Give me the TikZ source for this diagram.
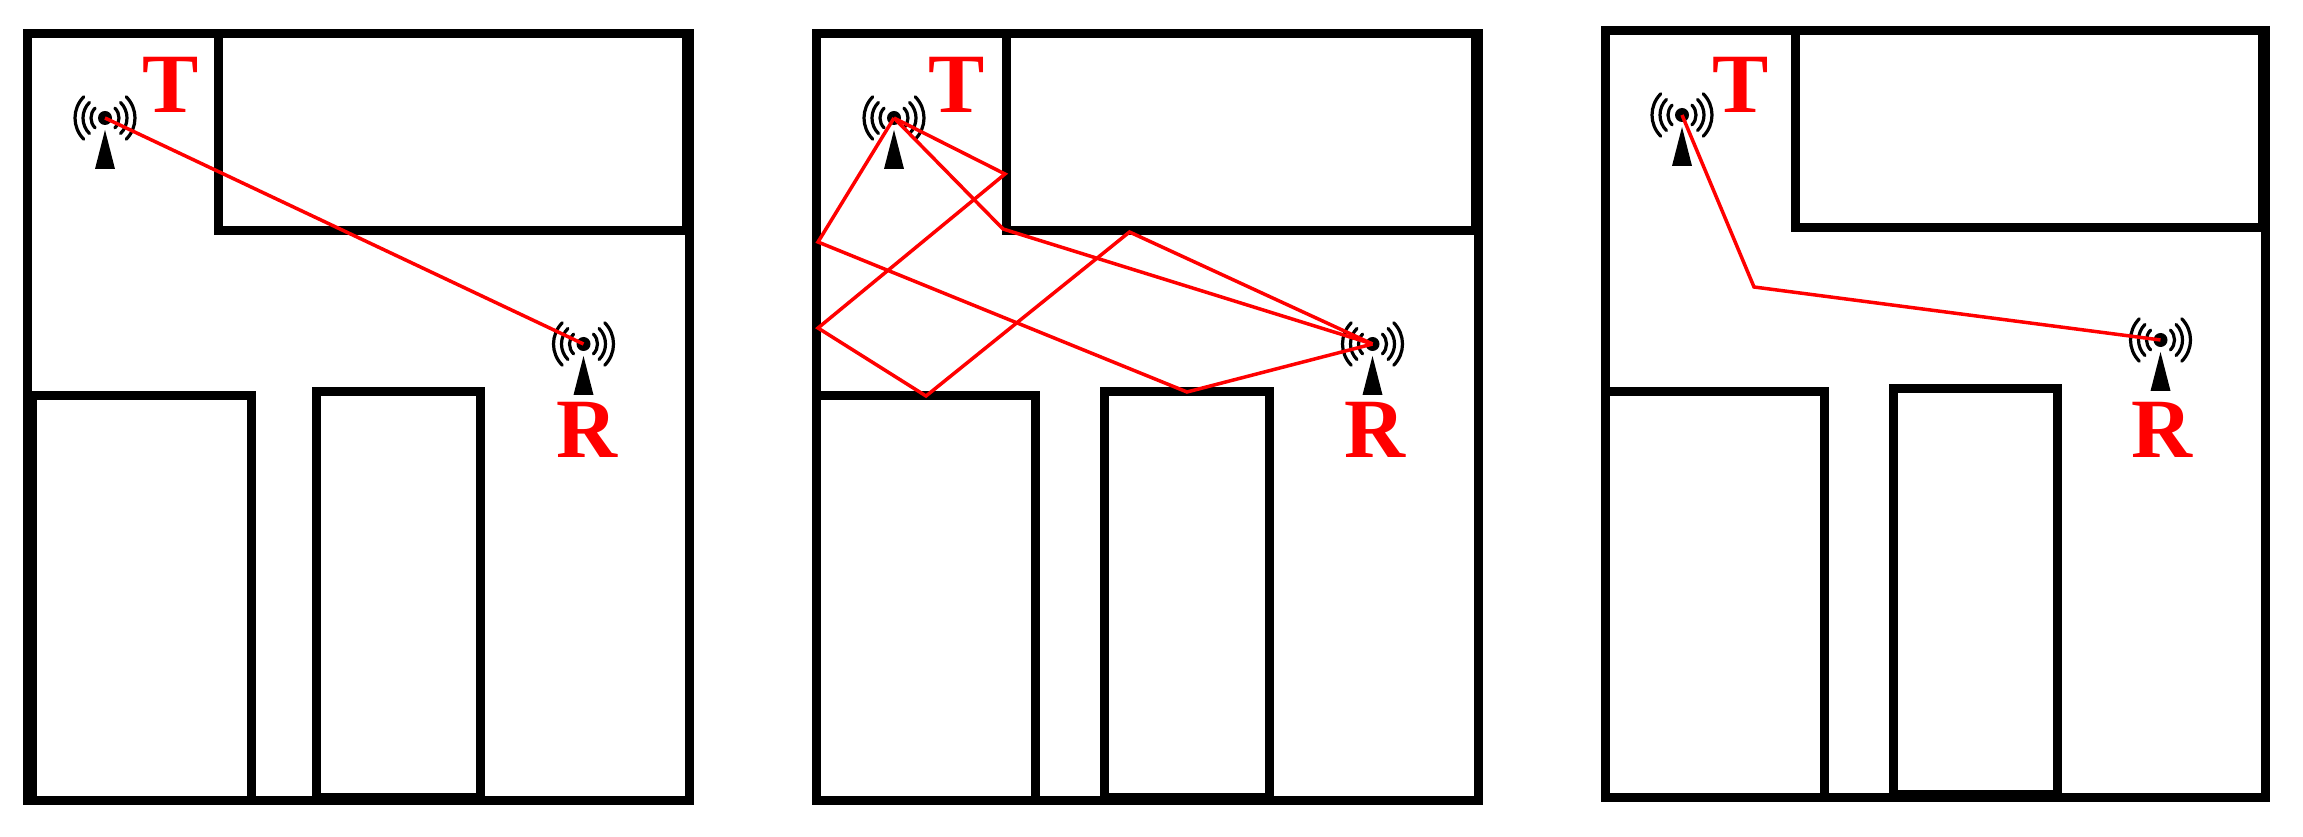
\documentclass[tikz,border=0pt]{standalone}
\usepackage{fontspec}
\setmainfont{Liberation Serif}
\usepackage{tikz}

\tikzset{
  wall/.style={line width=0.09cm, color=black, line join=miter},
  thickwall/.style={line width=0.12cm, color=black},
  ray/.style={line width=0.035cm, color=red, line join=miter},
  tag/.style={color=red, inner sep=0pt, outer sep=0pt, anchor=base, font=\fontsize{24pt}{24pt}\selectfont\bfseries},
  pics/antenna/.style={code={
    \fill[black] (0,0) circle (7);
    \fill[black] (-10,51) -- (10,51) -- (0,12) -- cycle;
    \foreach \r in {14,22,30} {
      \draw[line width=0.032cm, black, line cap=round] (0,0) ++(135:\r) arc[start angle=135, end angle=225, radius=\r];
      \draw[line width=0.032cm, black, line cap=round] (0,0) ++(-45:\r) arc[start angle=-45, end angle=45, radius=\r];
    }
  }}
}

\begin{document}
\begin{tikzpicture}[x=0.01cm, y=-0.01cm]
  \useasboundingbox (0,0) rectangle (2303,837);

  % left plan
  \draw[wall] (27.5,34) rectangle (689.5,800.5);
  \draw[wall] (218,34) |- (690,230.5);
  \draw[thickwall] (688,29.5) -- (688,235);
  \draw[wall] (32.5,395.5) rectangle (251,800.5);
  \draw[wall] (316,391.5) rectangle (480.5,797.5);
  \coordinate (T1) at (105,118);
  \coordinate (R1) at (583.5,344);
  \pic at (T1) {antenna};
  \pic at (R1) {antenna};
  \node[tag] (labelT1) at (170.5,113) {T};
  \node[tag] (labelR1) at (587,458) {R};
  \draw[ray] (T1) -- (R1);

  % middle plan
  \draw[wall] (816,34) rectangle (1478,800.5);
  \draw[wall] (1006,34) |- (1479,230.5);
  \draw[thickwall] (1476.5,29.5) -- (1476.5,235);
  \draw[wall] (816,395.5) rectangle (1035,800.5);
  \draw[wall] (1104.5,391.5) rectangle (1269.5,797.5);
  \coordinate (T2) at (894,118);
  \coordinate (R2) at (1372.5,344);
  \coordinate (bounceA) at (1005,174);
  \coordinate (bounceB) at (818,328);
  \coordinate (bounceC) at (926,396);
  \coordinate (bounceD) at (1129.5,232);
  \coordinate (bounceE) at (818,242);
  \coordinate (bounceF) at (1187,392);
  \coordinate (bounceG) at (1003,229);
  \pic at (T2) {antenna};
  \pic at (R2) {antenna};
  \node[tag] (labelT2) at (957,113) {T};
  \node[tag] (labelR2) at (1375,458) {R};
  \draw[ray] (T2) -- (bounceA) -- (bounceB) -- (bounceC) -- (bounceD) -- (R2);
  \draw[ray] (T2) -- (bounceE) -- (bounceF) -- (R2);
  \draw[ray] (T2) -- (bounceG) -- (R2);

  % right plan
  \draw[wall] (1605.7,30.5) rectangle (2265.5,797.5);
  \draw[wall] (1795,30.5) |- (2266,227.5);
  \draw[thickwall] (2264,26) -- (2264,232);
  \draw[wall] (1605.7,391.5) rectangle (1824,797.5);
  \draw[wall] (1893,388.5) rectangle (2057.7,794.5);
  \coordinate (T3) at (1682,115);
  \coordinate (R3) at (2160.5,340);
  \coordinate (bounceH) at (1754,287);
  \pic at (T3) {antenna};
  \pic at (R3) {antenna};
  \node[tag] (labelT3) at (1741,113) {T};
  \node[tag] (labelR3) at (2162,458) {R};
  \draw[ray] (T3) -- (bounceH) -- (R3);
\end{tikzpicture}
\end{document}
